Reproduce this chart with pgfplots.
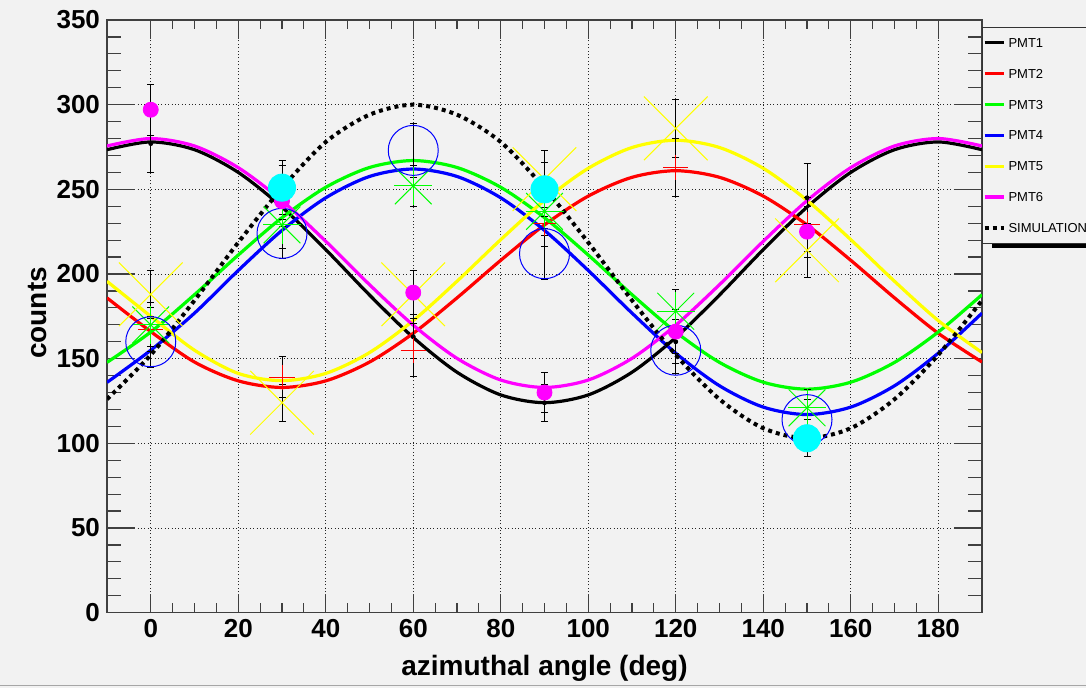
\documentclass[border=0pt]{standalone}
\usepackage{fontspec}
\setmainfont{Liberation Sans}
\usepackage{pgfplots}
\pgfplotsset{compat=1.18}
\definecolor{bg}{HTML}{F2F2F2}
\definecolor{pcyan}{RGB}{0,255,255}
\definecolor{pgreen}{RGB}{0,255,0}
\definecolor{pyellow}{RGB}{255,255,0}
\definecolor{pmag}{RGB}{255,0,255}
\definecolor{pred}{RGB}{255,0,0}
\definecolor{pblue}{RGB}{0,0,255}
\pgfplotsset{
  eb/.style={error bars/.cd, y dir=both, y explicit,
    error bar style={black, line width=0.5pt, solid},
    error mark options={rotate=90, mark size=1.75pt, black, line width=0.5pt, solid}},
  fitc/.style={smooth, no marks, line width=1.6pt},
}
\begin{document}
\begin{tikzpicture}
\fill[bg] (0,0) rectangle (543pt,344pt);
\useasboundingbox (0,0) rectangle (543pt,344pt);
\draw[gray!70, line width=0.5pt] (0,1pt) -- (543pt,1pt);
\fill[black] (495.85pt,219.85pt) rectangle (550pt,222.85pt);
\begin{axis}[
  at={(53.5pt,37.65pt)}, anchor=south west,
  scale only axis, width=437.5pt, height=296.35pt,
  xmin=-10, xmax=190, ymin=0, ymax=350,
  xtick={0,20,...,180}, ytick={0,50,...,350},
  minor x tick num=3, minor y tick num=4,
  axis line style={black!75, line width=0.6pt},
  tick style={black!75, line width=0.6pt},
  xtick style={/pgfplots/major tick length=9.5pt, /pgfplots/minor tick length=4.7pt},
  ytick style={/pgfplots/major tick length=14pt, /pgfplots/minor tick length=6.8pt},
  grid=major,
  major grid style={black!85, line width=0.5pt, dash pattern=on 0.5pt off 1.2pt},
  axis background/.style={fill=bg},
  ticklabel style={font=\fontsize{13}{13}\selectfont\bfseries},
  /pgf/number format/assume math mode=true,
  xlabel={azimuthal angle (deg)}, ylabel={counts},
  label style={font=\fontsize{14}{14}\selectfont\bfseries},
  xlabel style={at={(axis description cs:0.5,-0.0933)}, anchor=center},
  ylabel style={at={(axis description cs:-0.0794,0.5057)}, anchor=center},
  legend cell align=left,
  legend image code/.code={\draw[#1] (0pt,0pt) -- (9.5pt,0pt);},
  legend style={at={(1,0.9887)}, anchor=north west, draw=black!80, line width=0.5pt, fill=bg,
    font=\fontsize{6.5}{7}\selectfont, inner xsep=0pt, inner ysep=5.6pt,
    row sep=10.9pt, column sep=1.5pt,
    nodes={inner sep=0pt, text depth=0pt}},
]
% fitted curves
\addplot[fitc, black] coordinates {(-10,273.4)(0,278)(10,273.4)(20,260.0)(30,239.5)(40,214.4)(50,187.6)(60,162.5)(70,142.0)(80,128.6)(90,124)(100,128.6)(110,142.0)(120,162.5)(130,187.6)(140,214.4)(150,239.5)(160,260.0)(170,273.4)(180,278)(190,273.4)};
\addlegendentry{PMT1}
\addplot[fitc, pred] coordinates {(-10,185.9)(0,166)(10,148.0)(20,136.9)(30,133)(40,136.9)(50,148.0)(60,165)(70,185.9)(80,208.1)(90,229)(100,246.0)(110,257.1)(120,261)(130,257.1)(140,246.0)(150,229)(160,208.1)(170,185.9)(180,165)(190,148.0)};
\addlegendentry{PMT2}
\addplot[fitc, pgreen] coordinates {(-10,147.8)(0,165.75)(10,187.8)(20,211.2)(30,233.25)(40,251.2)(50,262.9)(60,267)(70,262.9)(80,251.2)(90,233.25)(100,211.2)(110,187.8)(120,165.75)(130,147.8)(140,136.1)(150,132)(160,136.1)(170,147.8)(180,165.75)(190,187.8)};
\addlegendentry{PMT3}
\addplot[fitc, pblue] coordinates {(-10,136)(0,155)(10,176.9)(20,202.1)(30,225.75)(40,245.0)(50,257.6)(60,262)(70,257.6)(80,245.0)(90,225.75)(100,202.1)(110,176.9)(120,153.25)(130,134.0)(140,121.4)(150,117)(160,121.4)(170,134.0)(180,153.25)(190,176.9)};
\addlegendentry{PMT4}
\addplot[fitc, pyellow] coordinates {(-10,195.7)(0,175)(10,155)(20,141.3)(30,137)(40,141.3)(50,153.6)(60,172.5)(70,195.7)(80,220.3)(90,243.5)(100,262.4)(110,274.7)(120,279)(130,274.7)(140,262.4)(150,243.5)(160,220.3)(170,195.7)(180,172.5)(190,153.6)};
\addlegendentry{PMT5}
\addplot[fitc, pmag] coordinates {(-10,275.6)(0,280)(10,275.6)(20,262.8)(30,243.3)(40,219.3)(50,193.7)(60,169.8)(70,150.2)(80,137.4)(90,133)(100,137.4)(110,150.2)(120,169.8)(130,193.7)(140,219.3)(150,243.3)(160,262.8)(170,275.6)(180,280)(190,275.6)};
\addlegendentry{PMT6}
\addplot[smooth, no marks, black, line width=2pt, dash pattern=on 2pt off 2pt] coordinates {(-10,126.05)(0,152.25)(10,184.4)(20,218.6)(30,250.75)(40,277.95)(50,294.06)(60,300)(70,294.06)(80,277.95)(90,250.75)(100,218.6)(110,184.4)(120,152.25)(130,126.05)(140,108.94)(150,103)(160,108.94)(170,126.05)(180,152.25)(190,184.4)};
\addlegendentry{SIMULATION}
% data points
\addplot[forget plot, only marks, black, mark=*, mark size=1pt, eb] coordinates {(0,277) +- (0,17) (30,248) +- (0,16) (60,163) +- (0,13) (90,124) +- (0,11) (120,160) +- (0,13) (150,245) +- (0,20)};
\addplot[forget plot, only marks, pred, mark=+, mark size=6.3pt, mark options={line width=0.5pt}, eb] coordinates {(0,167) +- (0,13) (30,139) +- (0,12) (60,155) +- (0,15.5) (90,230) +- (0,14) (120,263) +- (0,17) (150,229) +- (0,16)};
\addplot[forget plot, only marks, pgreen, mark=+, mark size=9.5pt, mark options={line width=0.5pt}, eb] coordinates {(0,170) +- (0,13) (30,229) +- (0,14) (60,252) +- (0,12) (90,237) +- (0,14) (120,178) +- (0,13) (150,121) +- (0,11)};
\addplot[forget plot, only marks, pgreen, mark=x, mark size=13pt, mark options={line width=0.5pt}] coordinates {(0,170) (30,229) (60,252) (90,237) (120,178) (150,121)};
\addplot[forget plot, only marks, pblue, mark=o, mark size=12.5pt, mark options={line width=0.5pt}, eb] coordinates {(0,160) +- (0,15) (30,224) +- (0,15) (60,273) +- (0,16) (90,212) +- (0,15) (120,155) +- (0,14) (150,114) +- (0,12)};
\addplot[forget plot, only marks, pyellow, mark=x, mark size=22.5pt, mark options={line width=0.5pt}, eb] coordinates {(0,188) +- (0,14) (30,124) +- (0,11) (60,188) +- (0,14) (90,256) +- (0,17) (120,286) +- (0,17) (150,214) +- (0,16)};
\addplot[forget plot, only marks, pmag, mark=*, mark size=3.75pt, mark options={draw=pmag, fill=pmag}, eb] coordinates {(0,297) +- (0,15) (30,243) +- (0,15) (60,189) +- (0,13) (90,130) +- (0,12) (120,166) +- (0,13) (150,225) +- (0,15)};
\addplot[forget plot, only marks, pcyan, mark=*, mark size=6.8pt, mark options={draw=pcyan, fill=pcyan}, eb] coordinates {(30,251) +- (0,16) (90,250) +- (0,16) (150,103) +- (0,11)};
\end{axis}
\end{tikzpicture}
\end{document}
